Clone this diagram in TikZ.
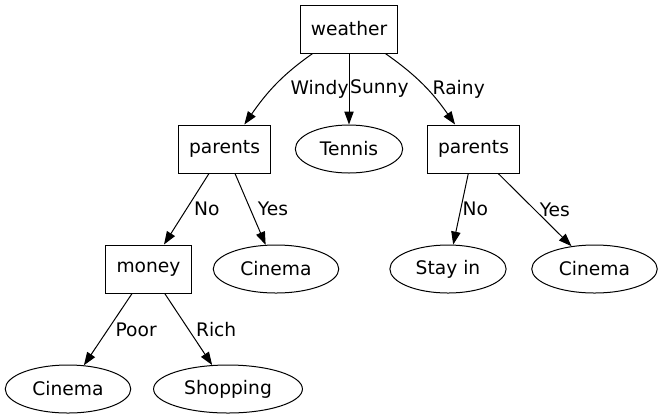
\documentclass[tikz,border=0pt]{standalone}
\usepackage{fontspec}
\setmainfont{DejaVu Sans}
\usetikzlibrary{shapes.geometric, arrows.meta, positioning}

\begin{document}
\begin{tikzpicture}[x=0.75pt, y=0.75pt, ->, >={Triangle[length=9.75pt, width=7pt]}, line width=0.75pt,
    every node/.style={font=\fontsize{14}{17}\selectfont},
    test/.style={draw, rectangle, minimum width=54pt, minimum height=36pt, inner xsep=8pt},
    leaf/.style={draw, ellipse, minimum height=36pt, inner xsep=6.6pt, inner ysep=0pt},
    lbl/.style={midway, right, xshift=2pt}]
    \useasboundingbox (0,0) rectangle (663,-419);
    \node[test] (weather) at (349,-29) {weather};
    \node[test] (parentsL) at (224.5,-149) {parents};
    \node[leaf] (tennis) at (349,-149) {Tennis};
    \node[test] (parentsR) at (473.5,-149) {parents};
    \node[test] (money) at (148.5,-269) {money};
    \node[leaf] (cinemaM) at (276,-269) {Cinema};
    \node[leaf] (stayin) at (448,-269) {Stay in};
    \node[leaf] (cinemaR) at (594.5,-269) {Cinema};
    \node[leaf] (cinemaL) at (68,-389) {Cinema};
    \node[leaf] (shopping) at (228,-389) {Shopping};
    \path (weather.-146) edge[out=-145, in=55] node[lbl, xshift=6pt, yshift=-3pt] {Windy} (parentsL.51)
          (weather) edge node[lbl, inner xsep=0pt, xshift=-1.5pt] {Sunny} (tennis)
          (weather.-34) edge[out=-35, in=125] node[lbl, xshift=1pt, yshift=-3pt] {Rainy} (parentsR.127)
          (parentsL) edge node[lbl] {No} (money)
          (parentsL) edge node[lbl] {Yes} (cinemaM)
          (parentsR) edge node[lbl, inner xsep=0pt, xshift=-1pt] {No} (stayin)
          (parentsR) edge node[lbl, xshift=-2pt] {Yes} (cinemaR)
          (money) edge node[lbl] {Poor} (cinemaL)
          (money) edge node[lbl] {Rich} (shopping);
\end{tikzpicture}
\end{document}
